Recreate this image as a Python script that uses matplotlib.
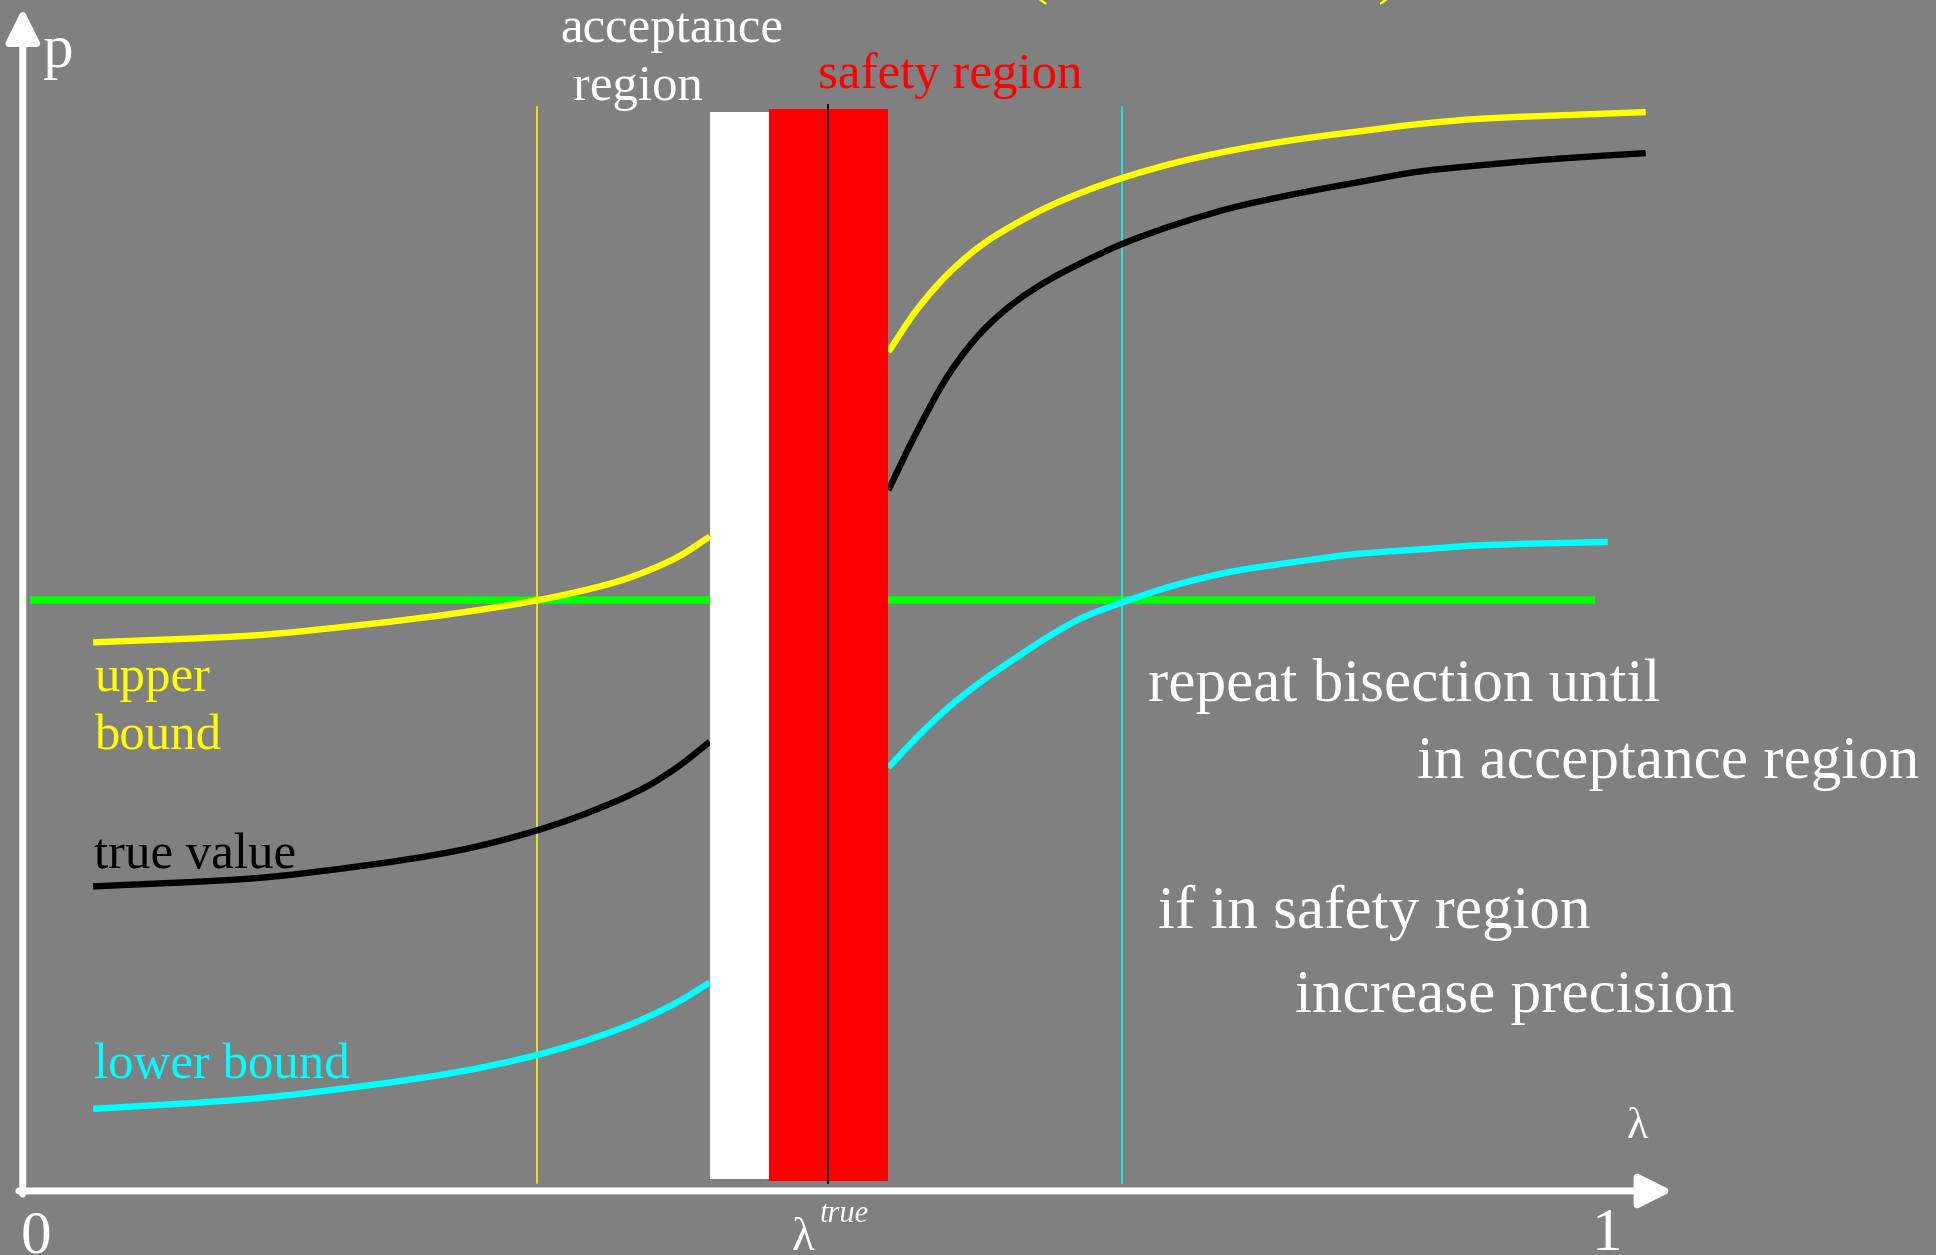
import matplotlib
matplotlib.use("Agg")
import matplotlib.pyplot as plt
import numpy as np
from matplotlib.path import Path
from matplotlib.patches import PathPatch

# ---- data -------------------------------------------------------------
# lambda grid left of the acceptance / safety band, and right of it
lam_left = [0.045, 0.142, 0.220, 0.275, 0.326, 0.376, 0.397, 0.416, 0.435]
lam_right = [0.548, 0.566, 0.587, 0.608, 0.629, 0.650, 0.671, 0.696,
             0.732, 0.767, 0.808, 0.845, 0.884, 0.924, 0.973, 1.027]
lam_right_lower = lam_right[:-1] + [1.003]

upper_left = [0.508, 0.514, 0.525, 0.535, 0.547, 0.564, 0.575, 0.588, 0.606]
upper_right = [0.777, 0.816, 0.851, 0.877, 0.896, 0.912, 0.925, 0.938,
               0.953, 0.964, 0.974, 0.981, 0.988, 0.993, 0.996, 0.999]

true_left = [0.282, 0.289, 0.302, 0.315, 0.334, 0.361, 0.376, 0.394, 0.416]
true_right = [0.649, 0.703, 0.758, 0.797, 0.824, 0.844, 0.860, 0.877,
              0.896, 0.911, 0.924, 0.934, 0.944, 0.950, 0.956, 0.961]

lower_left = [0.076, 0.085, 0.098, 0.110, 0.126, 0.149, 0.162, 0.176, 0.193]
lower_right = [0.392, 0.420, 0.449, 0.473, 0.494, 0.514, 0.531, 0.545,
               0.562, 0.574, 0.583, 0.590, 0.594, 0.598, 0.600, 0.601]

threshold = 0.547
threshold_span = [0.005, 0.995]

lam_upper_hit = 0.326     # where the upper bound meets the threshold
lam_lower_hit = 0.696     # where the lower bound meets the threshold
lam_true = 0.510

accept_band = [0.435, 0.4725]
safety_band = [0.4725, 0.548]

# ---- figure -----------------------------------------------------------
BG = "#808080"
YEL, CYA, GRN, RED = "#ffff00", "#00ffff", "#00ff00", "#ff0000"
SERIF = ["Liberation Serif", "DejaVu Serif"]

fig = plt.figure(figsize=(19.36, 12.55), dpi=100, facecolor=BG)
ax = fig.add_axes([0, 0, 1, 1])
ax.set_facecolor(BG)
ax.set_xlim(-0.0139, 1.2106)
ax.set_ylim(-0.0593, 1.1028)
ax.axis("off")


def smooth_curve(x, y, color):
    """Draw a monotone cubic (Bezier) curve through the given points."""
    x = np.asarray(x, float)
    y = np.asarray(y, float)
    h = np.diff(x)
    d = np.diff(y) / h
    m = np.zeros_like(y)
    m[0], m[-1] = d[0], d[-1]
    for i in range(1, len(x) - 1):
        if d[i - 1] * d[i] > 0:
            w1 = 2 * h[i] + h[i - 1]
            w2 = h[i] + 2 * h[i - 1]
            m[i] = (w1 + w2) / (w1 / d[i - 1] + w2 / d[i])
    verts = [(x[0], y[0])]
    codes = [Path.MOVETO]
    for i in range(len(x) - 1):
        verts += [(x[i] + h[i] / 3, y[i] + m[i] * h[i] / 3),
                  (x[i + 1] - h[i] / 3, y[i + 1] - m[i + 1] * h[i] / 3),
                  (x[i + 1], y[i + 1])]
        codes += [Path.CURVE4] * 3
    ax.add_patch(PathPatch(Path(verts, codes), fill=False, edgecolor=color,
                           lw=4.6, capstyle="butt", joinstyle="round",
                           zorder=3))


# axes with arrow heads
arrow_kw = dict(arrowstyle="-|>,head_length=2.0,head_width=1.0",
                mutation_scale=10, color="white", lw=5,
                shrinkA=0, shrinkB=0)
ax.annotate("", xy=(0.0005, 1.0954), xytext=(0.0005, -0.003),
            arrowprops=arrow_kw)
ax.annotate("", xy=(1.044, 0.0), xytext=(-0.002, 0.0),
            arrowprops=arrow_kw)

# threshold line
ax.plot(threshold_span, [threshold, threshold], color=GRN, lw=5.5,
        solid_capstyle="butt", zorder=2)

# bound curves and true value
smooth_curve(lam_left, upper_left, YEL)
smooth_curve(lam_right, upper_right, YEL)
smooth_curve(lam_left, true_left, "black")
smooth_curve(lam_right, true_right, "black")
smooth_curve(lam_left, lower_left, CYA)
smooth_curve(lam_right_lower, lower_right, CYA)

# thin markers where the bounds cross the threshold
ax.plot([lam_upper_hit, lam_upper_hit], [0.007, 1.004], color=YEL,
        lw=1.1, zorder=2)
ax.plot([lam_lower_hit, lam_lower_hit], [0.007, 1.004], color=CYA,
        lw=1.1, zorder=2)

# acceptance (white) and safety (red) regions
ax.fill_between(accept_band, 0.011, 0.999, color="white", lw=0, zorder=5)
ax.fill_between(safety_band, 0.009, 1.002, color=RED, lw=0, zorder=5)
ax.plot([lam_true, lam_true], [0.007, 1.006], color="black", lw=1.3,
        zorder=6)

# ---- text -------------------------------------------------------------
def label(x, y, s, color="white", size=36.6, ha="left", **kw):
    ax.text(x, y, s, color=color, fontsize=size, ha=ha, va="baseline",
            family=SERIF, clip_on=False, **kw)

label(0.0133, 1.0407, "p", size=44)
label(0.4108, 1.0639, "acceptance", ha="center")
label(0.3896, 1.0102, "region", ha="center")
label(0.587, 1.0213, "safety region", color=RED, ha="center")
label(0.636, 1.110, "(", color=YEL, size=44)
label(0.857, 1.110, ")", color=YEL, size=44)

label(0.0455, 0.463, "upper", color=YEL)
label(0.0455, 0.409, "bound", color=YEL)
label(0.0455, 0.299, "true value", color="black")
label(0.0455, 0.1046, "lower bound", color=CYA)

label(0.7122, 0.4537, "repeat bisection until", size=44)
label(0.8824, 0.3824, "in acceptance region", size=44)
label(0.7185, 0.2435, "if in safety region", size=44)
label(0.8052, 0.1657, "increase precision", size=44)

label(-0.001, -0.0574, "0", size=44)
label(0.993, -0.0546, "1", size=44)
label(0.487, -0.0546, "λ", size=34)
label(0.5047, -0.0287, "true", size=22, style="italic")
label(1.0152, 0.049, "λ", size=32)

fig.savefig("out.png", dpi=100, facecolor=BG)
